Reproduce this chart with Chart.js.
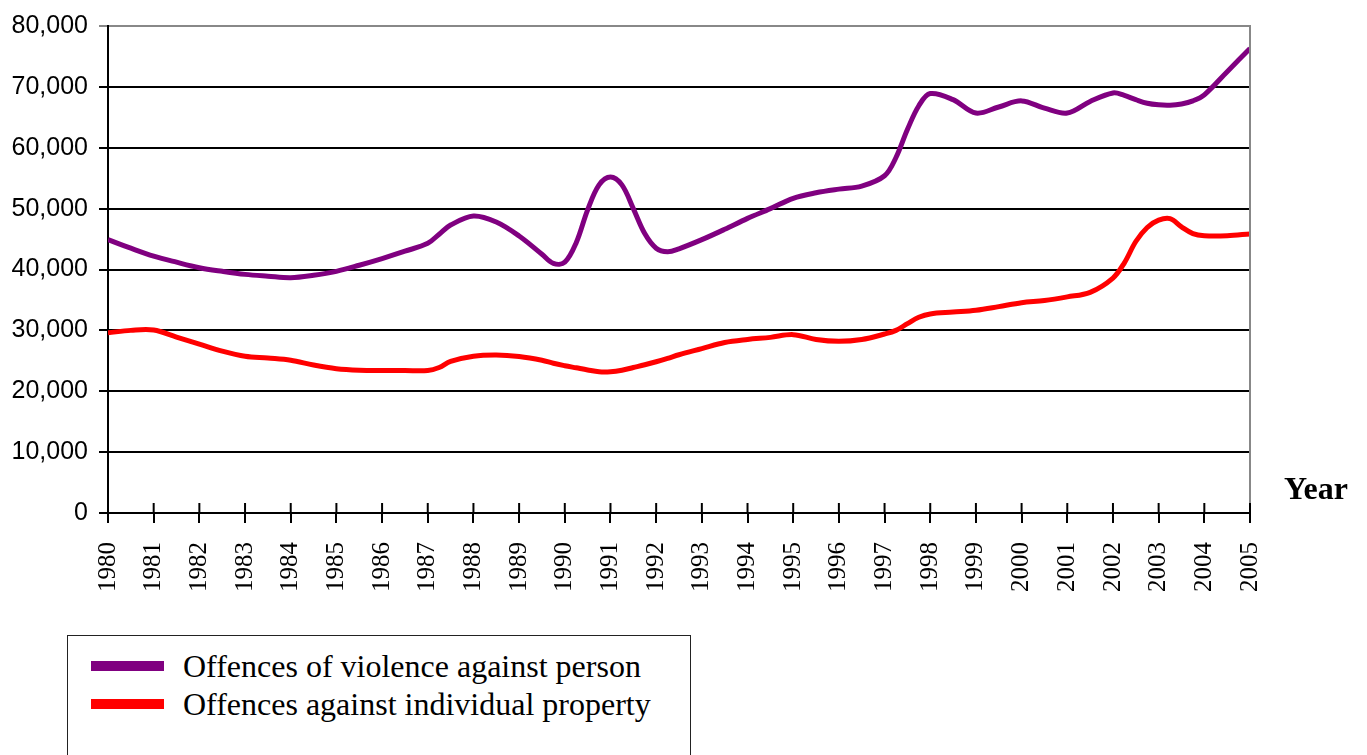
<!DOCTYPE html>
<html>
<head>
<meta charset="utf-8">
<script src="https://cdn.jsdelivr.net/npm/chart.js@4.4.1/dist/chart.umd.min.js"></script>
<style>
  html, body { margin: 0; padding: 0; background: #fff; }
  #wrap { position: relative; width: 1367px; height: 755px; overflow: hidden; }
  #c { position: absolute; left: 0; top: 0; }
  #yearLabel { position: absolute; left: 1284px; top: 470px; font: bold 32px "Liberation Serif", "Times New Roman", serif; color: #000; }
  #legend { position: absolute; left: 67px; top: 635px; width: 624px; height: 140px; border: 1px solid #222; box-sizing: border-box; background: #fff; }
  .item { position: absolute; left: 0; height: 38px; width: 620px; }
  .sw { position: absolute; left: 23px; width: 73px; height: 10px; }
  .tx { position: absolute; left: 115px; font: 32px "Liberation Serif", "Times New Roman", serif; color: #000; white-space: nowrap; line-height: 38px; top: 0; }
</style>
</head>
<body>
<div id="wrap">
  <canvas id="c" width="1367" height="755"></canvas>
  <div id="yearLabel">Year</div>
  <div id="legend"></div>
</div>
<script>
// ---- data ----
const periods = [1980, 1980.5, 1981, 1981.5, 1982, 1982.5, 1983, 1983.5, 1984, 1984.5, 1985, 1985.5, 1986, 1986.5, 1987,
  1987.25, 1987.5, 1988, 1988.5, 1989, 1989.5,
  1989.75, 1990, 1990.25, 1990.5, 1990.75, 1991, 1991.25, 1991.5, 1991.75, 1992, 1992.25, 1992.5,
  1993, 1993.5, 1994, 1994.5, 1995, 1995.5, 1996, 1996.5, 1997,
  1997.25, 1997.5, 1997.75, 1998, 1998.5, 1999, 1999.5, 2000, 2000.5, 2001, 2001.5, 2002,
  2002.25, 2002.5, 2002.75, 2003, 2003.25, 2003.5, 2003.75, 2004, 2004.5, 2005];

const violenceAgainstPerson = [44900, 43500, 42200, 41200, 40300, 39700, 39200, 38900, 38650, 39050, 39700, 40700, 41800, 43000, 44300,
  45800, 47300, 48800, 47800, 45500, 42500,
  41000, 41200, 44400, 49800, 53900, 55200, 53900, 50000, 45900, 43500, 42900, 43400,
  44900, 46600, 48400, 50000, 51700, 52600, 53200, 53700, 55400,
  58400, 63000, 66900, 68900, 67900, 65700, 66700, 67700, 66500, 65700, 67600, 69000,
  68600, 67900, 67300, 67050, 67000, 67200, 67700, 68700, 72500, 76300];

const againstIndividualProperty = [29600, 30000, 30050, 28900, 27750, 26600, 25750, 25450, 25100, 24300, 23700, 23450, 23400, 23400, 23400,
  23900, 24900, 25750, 25950, 25700, 25100,
  24600, 24200, 23850, 23500, 23200, 23200, 23450, 23900, 24350, 24850, 25400, 26000,
  27000, 28000, 28500, 28850, 29300, 28500, 28200, 28500, 29400,
  30000, 31100, 32150, 32700, 33000, 33300, 33900, 34550, 34900, 35500, 36250, 38600,
  41100, 44600, 46900, 48100, 48350, 47000, 45900, 45550, 45550, 45850];

const yearTicks = [1980, 1981, 1982, 1983, 1984, 1985, 1986, 1987, 1988, 1989, 1990, 1991, 1992,
  1993, 1994, 1995, 1996, 1997, 1998, 1999, 2000, 2001, 2002, 2003, 2004, 2005];
const valueTicks = [0, 10000, 20000, 30000, 40000, 50000, 60000, 70000, 80000];

const seriesLabels = ["Offences of violence against person", "Offences against individual property"];
const seriesColors = ["#800080", "#FF0000"];

// ---- chart ----
const frame = {
  id: 'frame',
  afterDraw(chart) {
    const ctx = chart.ctx, a = chart.chartArea, xs = chart.scales.x;
    ctx.save();
    // right border of plot area
    ctx.strokeStyle = '#888';
    ctx.lineWidth = 2;
    ctx.beginPath();
    ctx.moveTo(a.right, a.top - 1);
    ctx.lineTo(a.right, a.bottom);
    ctx.stroke();
    // tick marks crossing above the x axis
    ctx.strokeStyle = '#000';
    ctx.lineWidth = 2;
    xs.ticks.forEach(t => {
      const px = xs.getPixelForValue(t.value);
      ctx.beginPath();
      ctx.moveTo(px, a.bottom - 10);
      ctx.lineTo(px, a.bottom);
      ctx.stroke();
    });
    ctx.restore();
  }
};

const chart = new Chart(document.getElementById('c'), {
  type: 'line',
  data: {
    datasets: [
      { label: seriesLabels[0], data: periods.map((p, i) => ({ x: p, y: violenceAgainstPerson[i] })),
        borderColor: seriesColors[0], backgroundColor: seriesColors[0], borderWidth: 5, pointRadius: 0, tension: 0.35, fill: false },
      { label: seriesLabels[1], data: periods.map((p, i) => ({ x: p, y: againstIndividualProperty[i] })),
        borderColor: seriesColors[1], backgroundColor: seriesColors[1], borderWidth: 5, pointRadius: 0, tension: 0.35, fill: false }
    ]
  },
  options: {
    responsive: false,
    animation: false,
    devicePixelRatio: 1,
    layout: { autoPadding: false, padding: { left: 0, right: 117, top: 21, bottom: 0 } },
    plugins: { legend: { display: false }, tooltip: { enabled: false } },
    scales: {
      x: {
        type: 'linear', min: 1980, max: 2005,
        afterBuildTicks: s => { s.ticks = yearTicks.map(v => ({ value: v })); },
        afterFit: s => { s.height = 242; },
        ticks: {
          autoSkip: false, minRotation: 90, maxRotation: 90, padding: 19,
          color: '#000', font: { family: '"Liberation Serif", "Times New Roman", serif', size: 25 },
          callback: v => String(v)
        },
        grid: { drawOnChartArea: false, drawTicks: true, tickLength: 10, color: '#000', lineWidth: 2 },
        border: { color: '#000', width: 2 }
      },
      y: {
        min: 0, max: 80000,
        afterBuildTicks: s => { s.ticks = valueTicks.map(v => ({ value: v })); },
        afterFit: s => { s.width = 108; },
        ticks: {
          padding: 11, color: '#000',
          font: { family: '"Liberation Sans", Arial, sans-serif', size: 25 },
          callback: v => v.toLocaleString('en-US')
        },
        grid: {
          color: c => (c.tick && c.tick.value === 80000) ? '#888' : '#000',
          lineWidth: 2, tickLength: 9
        },
        border: { color: '#000', width: 2 }
      }
    }
  },
  plugins: [frame]
});

// HTML legend built from the chart's datasets
const legend = document.getElementById('legend');
chart.data.datasets.forEach((ds, i) => {
  const item = document.createElement('div');
  item.className = 'item';
  item.style.top = (11 + i * 38) + 'px';
  const sw = document.createElement('div');
  sw.className = 'sw';
  sw.style.background = ds.borderColor;
  sw.style.top = '14px';
  const tx = document.createElement('div');
  tx.className = 'tx';
  tx.textContent = ds.label;
  item.appendChild(sw);
  item.appendChild(tx);
  legend.appendChild(item);
});
</script>
</body>
</html>
